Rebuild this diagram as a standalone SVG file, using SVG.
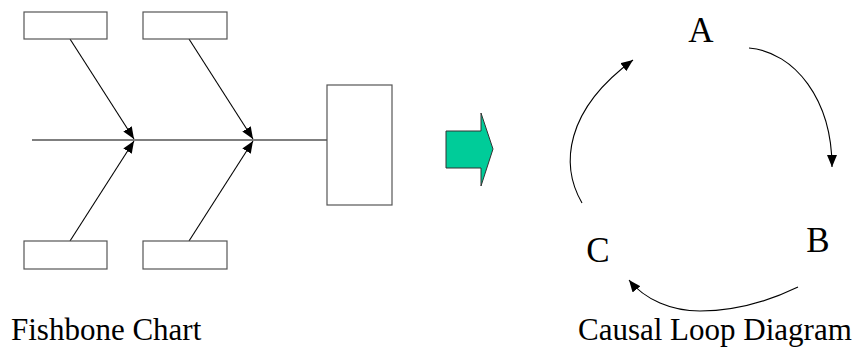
<svg xmlns="http://www.w3.org/2000/svg" width="863" height="349" viewBox="0 0 863 349">
<style>
.box{fill:#fff;stroke:#555;stroke-width:1.2}
.ln{fill:none;stroke:#000;stroke-width:1.1}
.lbl{font-family:"Liberation Serif","Times New Roman",serif;fill:#000}
</style>
<defs>
<marker id="ah" markerUnits="userSpaceOnUse" markerWidth="13" markerHeight="11" refX="12" refY="5" orient="auto">
<path d="M0,0 L12,5 L0,10 z" fill="#000"/>
</marker>
</defs>
<g id="connectors">
<line class="ln" x1="32" y1="140" x2="327" y2="140"/>
<line class="ln" x1="70" y1="39" x2="134" y2="139" marker-end="url(#ah)"/>
<line class="ln" x1="189" y1="39" x2="253" y2="139" marker-end="url(#ah)"/>
<line class="ln" x1="70" y1="241" x2="134" y2="141" marker-end="url(#ah)"/>
<line class="ln" x1="189" y1="241" x2="253" y2="141" marker-end="url(#ah)"/>
<path class="ln" d="M749,48 C795,52 832,100 832,167" marker-end="url(#ah)"/>
<path class="ln" d="M798,287 C765,303 730,311 700,311 C672,311 645,300 629,280" marker-end="url(#ah)"/>
<path class="ln" d="M582,203 C560,165 565,110 633,60" marker-end="url(#ah)"/>
</g>
<g id="cause1"><rect class="box" x="24" y="12" width="83" height="27"/></g>
<g id="cause2"><rect class="box" x="143" y="12" width="84" height="27"/></g>
<g id="cause3"><rect class="box" x="24" y="241" width="83" height="28"/></g>
<g id="cause4"><rect class="box" x="143" y="241" width="84" height="28"/></g>
<g id="effect"><rect class="box" x="327" y="85" width="65" height="120"/></g>
<g id="transform-arrow">
<path d="M446,131 L481,131 L481,113 L493,149 L481,186 L481,168 L446,168 z" fill="#00CC99" stroke="#333" stroke-width="1"/>
</g>
<g id="nodeA"><text class="lbl" x="701" y="42" font-size="35" text-anchor="middle">A</text></g>
<g id="nodeB"><text class="lbl" x="818" y="252" font-size="35" text-anchor="middle">B</text></g>
<g id="nodeC"><text class="lbl" x="598" y="262" font-size="35" text-anchor="middle">C</text></g>
<g id="label-fishbone"><text class="lbl" x="11" y="340" font-size="31">Fishbone Chart</text></g>
<g id="label-cld"><text class="lbl" x="578" y="340" font-size="31">Causal Loop Diagram</text></g>
</svg>
